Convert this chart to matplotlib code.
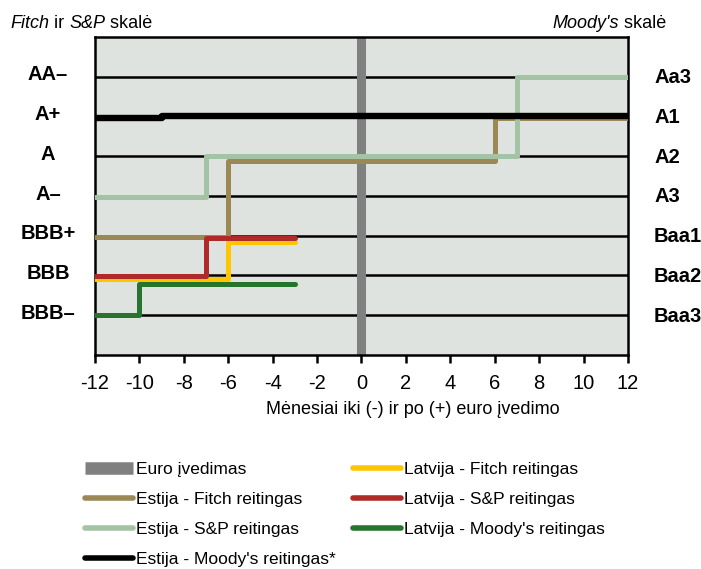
import matplotlib
matplotlib.use("Agg")
import matplotlib.pyplot as plt
from matplotlib import font_manager
from matplotlib.lines import Line2D
from matplotlib.transforms import blended_transform_factory

# pick a narrow font if there is one, the original looks like Arial Narrow
names = {f.name for f in font_manager.fontManager.ttflist}
FONT = "Liberation Sans Narrow" if "Liberation Sans Narrow" in names else "Liberation Sans"
plt.rcParams["font.family"] = [FONT, "DejaVu Sans"]

# rating scales (level 1 = lowest gridline)
fitch_sp_labels = ["BBB–", "BBB", "BBB+", "A–", "A", "A+", "AA–"]
moodys_labels = ["Baa3", "Baa2", "Baa1", "A3", "A2", "A1", "Aa3"]
levels = [1, 2, 3, 4, 5, 6, 7]

x_ticks = [-12, -10, -8, -6, -4, -2, 0, 2, 4, 6, 8, 10, 12]
euro_month = 0

# months relative to euro adoption and the rating level from then on
ee_fitch_x = [-12, -6, 6, 12]
ee_fitch_y = [2.97, 4.88, 5.95, 5.95]
ee_sp_x = [-12, -7, 7, 12]
ee_sp_y = [3.97, 5.0, 7.0, 7.0]
ee_moodys_x = [-12, -9, 12]
ee_moodys_y = [5.95, 6.0, 6.0]
lv_fitch_x = [-12, -6, -3]
lv_fitch_y = [1.91, 2.84, 2.84]
lv_sp_x = [-12, -7, -3]
lv_sp_y = [1.99, 2.95, 2.95]
lv_moodys_x = [-12, -10, -3]
lv_moodys_y = [1.0, 1.79, 1.79]

C_EURO = "#808080"
C_EE_FITCH = "#9C8855"
C_EE_SP = "#A4C3A4"
C_EE_MOODYS = "#000000"
C_LV_FITCH = "#FFC600"
C_LV_SP = "#B02A2A"
C_LV_MOODYS = "#26742E"

fig = plt.figure(figsize=(7.01, 5.69), dpi=100)
ax = fig.add_axes([0.1355, 0.3761, 0.7603, 0.5589])
ax.set_facecolor("#DFE3DF")
ax.set_xlim(-12, 12)
ax.set_ylim(0, 8)

for lv in levels:
    ax.axhline(lv, color="black", lw=1.8, zorder=1)
ax.axvline(euro_month, color=C_EURO, lw=6.5, zorder=2)


def draw(xs, ys, color, lw=3.6):
    ax.step(xs, ys, where="post", color=color, lw=lw,
            solid_capstyle="round", solid_joinstyle="round", zorder=3)


draw(ee_fitch_x, ee_fitch_y, C_EE_FITCH)
draw(ee_sp_x, ee_sp_y, C_EE_SP)
draw(lv_fitch_x, lv_fitch_y, C_LV_FITCH)
draw(lv_sp_x, lv_sp_y, C_LV_SP)
draw(lv_moodys_x, lv_moodys_y, C_LV_MOODYS)
ax.step(ee_moodys_x, ee_moodys_y, where="post", color=C_EE_MOODYS, lw=4.6,
        solid_capstyle="butt", solid_joinstyle="round", zorder=4)

for s in ax.spines.values():
    s.set_linewidth(1.8)
ax.set_yticks([])
ax.set_xticks(x_ticks)
ax.set_xticklabels([str(t) for t in x_ticks])
ax.tick_params(axis="x", direction="out", length=6, width=1.8, labelsize=14.5, pad=8)
ax.set_xlabel("Mėnesiai iki (-) ir po (+) euro įvedimo", fontsize=13)
ax.xaxis.set_label_coords(0.597, -0.145)

# rating labels on both sides
tr = blended_transform_factory(ax.transAxes, ax.transData)
for lv, lab in zip(levels, fitch_sp_labels):
    ax.text(-0.088, lv + 0.05, lab, transform=tr, ha="center", va="center",
            fontsize=14.5, fontweight="bold")
for lv, lab in zip(levels, moodys_labels):
    ax.text(1.049, lv - 0.02, lab, transform=tr, ha="left", va="center",
            fontsize=14.5, fontweight="bold")

# scale titles with italic agency names
renderer = fig.canvas.get_renderer()


def run_text(x_px, y_px, parts, ha="left"):
    widths = []
    items = []
    for s, style in parts:
        t = fig.text(0, 0, s, fontsize=13, style=style, va="baseline")
        widths.append(t.get_window_extent(renderer).width)
        items.append(t)
    total = sum(widths)
    x = x_px if ha == "left" else x_px - total
    for t, w in zip(items, widths):
        t.set_position((x / 701, 1 - y_px / 569))
        x += w


run_text(10, 28, [("Fitch", "italic"), (" ir ", "normal"),
                  ("S&P", "italic"), (" skalė", "normal")])
run_text(666, 28, [("Moody's", "italic"), (" skalė", "normal")], ha="right")

# legend, two columns placed separately
left_handles = [
    Line2D([], [], color=C_EURO, lw=9, solid_capstyle="butt"),
    Line2D([], [], color=C_EE_FITCH, lw=4, solid_capstyle="round"),
    Line2D([], [], color=C_EE_SP, lw=4, solid_capstyle="round"),
    Line2D([], [], color=C_EE_MOODYS, lw=4, solid_capstyle="round"),
]
left_labels = ["Euro įvedimas", "Estija - Fitch reitingas",
               "Estija - S&P reitingas", "Estija - Moody's reitingas*"]
right_handles = [
    Line2D([], [], color=C_LV_FITCH, lw=4, solid_capstyle="round"),
    Line2D([], [], color=C_LV_SP, lw=4, solid_capstyle="round"),
    Line2D([], [], color=C_LV_MOODYS, lw=4, solid_capstyle="round"),
]
right_labels = ["Latvija - Fitch reitingas", "Latvija - S&P reitingas",
                "Latvija - Moody's reitingas"]

leg_kw = dict(frameon=False, fontsize=12.5, handlelength=2.75, handletextpad=0.2,
              labelspacing=0.85, borderpad=0, borderaxespad=0, loc="upper left")
fig.legend(left_handles, left_labels, bbox_to_anchor=(85 / 701, 1 - 462 / 569), **leg_kw)
fig.legend(right_handles, right_labels, bbox_to_anchor=(353 / 701, 1 - 462 / 569), **leg_kw)

fig.savefig("out.png", dpi=100)
